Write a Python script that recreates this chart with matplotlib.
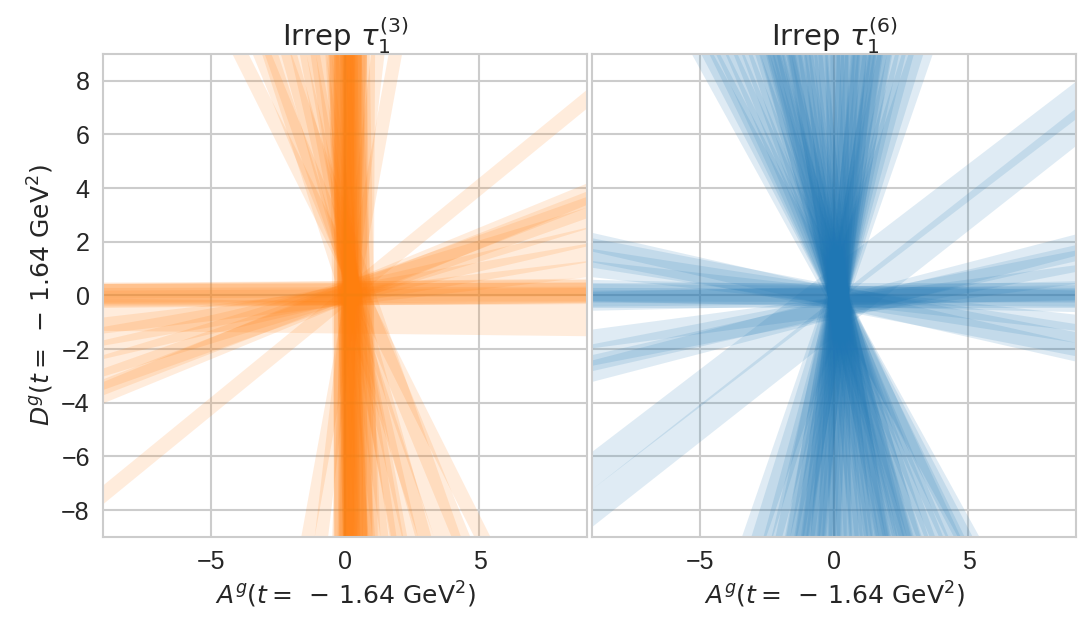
import numpy as np
import matplotlib
matplotlib.use("Agg")
from matplotlib import pyplot as plt
import seaborn as sns

sns.set_theme(style="whitegrid", rc={"grid.linewidth": 1.5, "axes.linewidth": 1.5})
plt.rcParams['font.family'] = ['Liberation Sans', 'DejaVu Sans']
plt.rcParams['mathtext.fontset'] = 'dejavusans'

panel_titles = [r'$\mathrm{Irrep}\ \tau_1^{(3)}$', r'$\mathrm{Irrep}\ \tau_1^{(6)}$']
panel_colors = ['#ff7f0e', '#1f77b4']
xlabel = r'$A^g(t=\;-\,1.64\ \mathrm{GeV}^2)$'
ylabel = r'$D^g(t=\;-\,1.64\ \mathrm{GeV}^2)$'
lim = 9

# steep constraints: A at D=+9, A at D=-9, half width in A
orange_top_A = [0.0, 0.1, 0.2, -0.1, 0.3, 0.05, 0.15, -0.2, 0.25, 0.1, 0.0, 0.2,
                -0.3, 0.4, 0.1, -0.4, 0.5, 0.6, -0.5, 0.8, 0.3, 0.1, 0.15,
                -3.9, -3.1, -2.8, -2.1, -1.75, -1.4, -1.0, -0.8, -2.5, 1.85, 1.2, -1.2]
orange_bot_A = [0.1, 0.2, 0.1, 0.3, 0.0, 0.15, 0.25, 0.4, 0.3, 0.05, 0.35, 0.2,
                0.5, 0.1, 0.3, 0.8, -0.2, 0.9, 0.6, 0.7, 1.0, 0.15, 0.1,
                5.1, 4.3, 3.0, 2.9, 2.4, 2.0, 1.6, 1.3, 3.8, -1.4, -0.9, 1.9]
orange_steep_w = [0.35, 0.3, 0.3, 0.4, 0.3, 0.25, 0.3, 0.4, 0.35, 0.5, 0.45, 0.6,
                  0.35, 0.35, 0.7, 0.3, 0.3, 0.3, 0.25, 0.3, 0.3, 0.2, 0.2,
                  0.3, 0.35, 0.3, 0.3, 0.3, 0.3, 0.3, 0.3, 0.5, 0.25, 0.25, 0.25]

# shallow constraints: D at A=-9, D at A=+9, half width in D
orange_left_D = [0.05, 0.0, 0.1, 0.0, -0.1, 0.2, -0.7,
                 -7.4, -3.6, -3.1, -2.6, -2.0, -1.5, -1.1, -3.4]
orange_right_D = [0.1, 0.05, 0.15, 0.2, 0.0, 0.3, -0.9,
                  7.35, 3.8, 3.3, 2.9, 2.2, 1.6, 1.0, 3.6]
orange_flat_w = [0.4, 0.3, 0.35, 0.45, 0.3, 0.3, 0.6,
                 0.35, 0.4, 0.4, 0.4, 0.35, 0.35, 0.3, 0.3]

blue_top_A = [-4.9, -4.6, -4.3, -4.0, -3.7, -3.4, -3.1, -2.8, -2.6, -2.4, -2.2, -2.0,
              -1.8, -1.6, -1.4, -1.2, -1.0, -0.8, -0.6, -0.4, -0.2, 0.0, 0.2, 0.4,
              0.6, 0.8, 1.0, 1.2, 1.4, 1.6, 1.8, 2.0, 2.3, 2.6, 2.9, 3.2,
              -2.2, -1.5, 0.9, 1.5, -2.4, -1.9, -1.3, -0.7, 0.1, 0.5, 1.1, 1.7]
blue_bot_A = [5.0, 4.8, 4.5, 4.3, 3.9, 3.7, 3.4, 3.1, 2.9, 2.6, 2.5, 2.3,
              2.0, 1.9, 1.7, 1.5, 1.3, 1.1, 0.9, 0.7, 0.5, 0.3, 0.1, -0.1,
              -0.3, -0.5, -0.7, -0.9, -1.1, -1.3, -1.5, -1.8, -2.0, -2.3, -2.7, -3.0,
              2.6, 1.8, -0.6, -1.2, 2.8, 2.2, 1.6, 1.0, 0.2, -0.2, -0.8, -1.4]
blue_steep_w = [0.4, 0.35, 0.35, 0.4, 0.35, 0.35, 0.35, 0.4, 0.35, 0.35, 0.35, 0.4,
                0.35, 0.35, 0.35, 0.4, 0.35, 0.35, 0.35, 0.35, 0.4, 0.35, 0.35, 0.35,
                0.35, 0.4, 0.35, 0.35, 0.35, 0.35, 0.35, 0.4, 0.35, 0.35, 0.4, 0.45,
                0.3, 0.3, 0.3, 0.3, 0.4, 0.4, 0.4, 0.4, 0.4, 0.4, 0.4, 0.4]

blue_left_D = [0.0, 0.1, -0.1, 0.05, 0.2, -0.2,
               2.0, 1.7, 1.4, 1.0,
               -2.8, -2.2, -1.6, -2.5,
               -6.5, -7.9]
blue_right_D = [0.0, -0.05, 0.1, 0.0, -0.2, 0.2,
                -2.1, -1.8, -1.4, -1.0,
                1.9, 1.3, 0.8, 1.6,
                7.3, 6.3]
blue_flat_w = [0.45, 0.35, 0.3, 0.25, 0.4, 0.35,
               0.35, 0.45, 0.35, 0.3,
               0.4, 0.4, 0.35, 0.3,
               0.7, 0.7]

panels = [
    (orange_top_A, orange_bot_A, orange_steep_w, orange_left_D, orange_right_D, orange_flat_w),
    (blue_top_A, blue_bot_A, blue_steep_w, blue_left_D, blue_right_D, blue_flat_w),
]


def draw_bands(ax, top, bot, wsteep, left, right, wflat, color):
    grid = np.array([-lim - 1, lim + 1])
    for t, b, w in zip(top, bot, wsteep):
        xc = b + (t - b) * (grid + lim) / (2 * lim)
        ax.fill_betweenx(grid, xc - w, xc + w, color=color, alpha=0.14, lw=0)
    for l, r, w in zip(left, right, wflat):
        yc = l + (r - l) * (grid + lim) / (2 * lim)
        ax.fill_between(grid, yc - w, yc + w, color=color, alpha=0.14, lw=0)


fig = plt.figure(figsize=(10.88, 6.19), dpi=100)
axes = fig.subplots(1, 2, sharey=True)
fig.subplots_adjust(left=0.0947, right=0.989, bottom=0.1325, top=0.9128, wspace=0.0103)

for ax, data, title, color in zip(axes, panels, panel_titles, panel_colors):
    draw_bands(ax, *data, color)
    ax.set_xlim(-lim, lim)
    ax.set_ylim(-lim, lim)
    ax.set_xticks([-5, 0, 5])
    ax.set_yticks([-8, -6, -4, -2, 0, 2, 4, 6, 8])
    ax.tick_params(labelsize=18)
    ax.set_title(title, fontsize=21)
    ax.set_xlabel(xlabel, fontsize=18)

axes[0].set_ylabel(ylabel, fontsize=18)

fig.savefig('out.png', dpi=100)
